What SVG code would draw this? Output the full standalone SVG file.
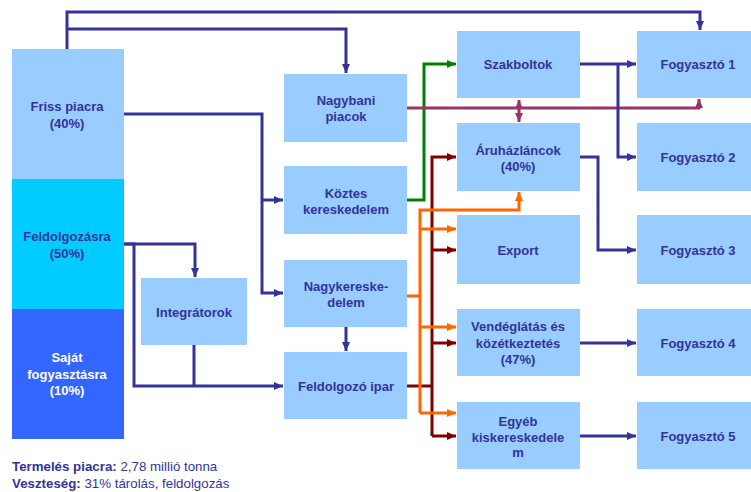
<svg xmlns="http://www.w3.org/2000/svg" width="751" height="492" viewBox="0 0 751 492">
<defs>
<style>
.box{fill:#99CCFF}
.t{font-family:"Liberation Sans",Arial,sans-serif;font-weight:bold;font-size:13px;fill:#333399;text-anchor:middle}
.w{fill:#FFFFFF}
.b{fill:none;stroke:#333399;stroke-width:3}
.g{fill:none;stroke:#008000;stroke-width:3}
.m{fill:none;stroke:#800000;stroke-width:3}
.o{fill:none;stroke:#FF6600;stroke-width:3}
.p{fill:none;stroke:#993366;stroke-width:3}
.foot{font-family:"Liberation Sans",Arial,sans-serif;font-size:13.3px;fill:#333399}
</style>
<marker id="ab" markerUnits="userSpaceOnUse" markerWidth="10" markerHeight="10" refX="9" refY="5" orient="auto"><path d="M0,1 L9,5 L0,9 Z" fill="#333399"/></marker>
<marker id="ag" markerUnits="userSpaceOnUse" markerWidth="10" markerHeight="10" refX="9" refY="5" orient="auto"><path d="M0,1 L9,5 L0,9 Z" fill="#008000"/></marker>
<marker id="am" markerUnits="userSpaceOnUse" markerWidth="10" markerHeight="10" refX="9" refY="5" orient="auto"><path d="M0,1 L9,5 L0,9 Z" fill="#800000"/></marker>
<marker id="ao" markerUnits="userSpaceOnUse" markerWidth="10" markerHeight="10" refX="9" refY="5" orient="auto"><path d="M0,1 L9,5 L0,9 Z" fill="#FF6600"/></marker>
<marker id="ap" markerUnits="userSpaceOnUse" markerWidth="10" markerHeight="10" refX="9" refY="5" orient="auto-start-reverse"><path d="M0,1 L9,5 L0,9 Z" fill="#993366"/></marker>
</defs>
<rect width="751" height="492" fill="#FFFFFF"/>

<g id="connectors">
<path class="b" d="M67,49 V12 H700 V30" marker-end="url(#ab)"/>
<path class="b" d="M67,29 H346 V73" marker-end="url(#ab)"/>
<path class="b" d="M124,114 H262 V293 H283" marker-end="url(#ab)"/>
<path class="b" d="M262,200 H283" marker-end="url(#ab)"/>
<path class="b" d="M124,244 H195 V277" marker-end="url(#ab)"/>
<path class="b" d="M124,244 H134 V386 H283" marker-end="url(#ab)"/>
<path class="b" d="M194,345 V386"/>
<path class="b" d="M346,327 V351" marker-end="url(#ab)"/>
<path class="g" d="M407,200 H424 V64 H456" marker-end="url(#ag)"/>
<path class="p" d="M407,108 H699 V99" marker-end="url(#ap)"/>
<path class="p" d="M519,100 V122" marker-start="url(#ap)" marker-end="url(#ap)"/>
<path class="m" d="M407,386 H432"/>
<path class="m" d="M432,436 V157 H456" marker-end="url(#am)"/>
<path class="m" d="M432,250 H456" marker-end="url(#am)"/>
<path class="m" d="M432,343 H456" marker-end="url(#am)"/>
<path class="m" d="M432,436 H456" marker-end="url(#am)"/>
<path class="o" d="M407,296 H420"/>
<path class="o" d="M420,413 V210 H519 V192" marker-end="url(#ao)"/>
<path class="o" d="M420,229 H456" marker-end="url(#ao)"/>
<path class="o" d="M420,327 H456" marker-end="url(#ao)"/>
<path class="o" d="M420,413 H456" marker-end="url(#ao)"/>
<path class="b" d="M580,64 H636" marker-end="url(#ab)"/>
<path class="b" d="M618,64 V157 H636" marker-end="url(#ab)"/>
<path class="b" d="M580,157 H598 V250 H636" marker-end="url(#ab)"/>
<path class="b" d="M580,343 H636" marker-end="url(#ab)"/>
<path class="b" d="M580,436 H636" marker-end="url(#ab)"/>
</g>

<g id="friss"><rect x="12" y="49" width="112" height="130" fill="#99CCFF"/><text class="t" x="67" y="111">Friss piacra</text><text class="t" x="67" y="128">(40%)</text></g>
<g id="feldolgozasra"><rect x="12" y="179" width="112" height="130" fill="#00CCFF"/><text class="t" x="67" y="241">Feldolgozásra</text><text class="t" x="67" y="258">(50%)</text></g>
<g id="sajat"><rect x="12" y="309" width="112" height="130" fill="#3366FF"/><text class="t w" x="67" y="362">Saját</text><text class="t w" x="67" y="379">fogyasztásra</text><text class="t w" x="67" y="395">(10%)</text></g>

<g id="integratorok"><rect class="box" x="141" y="278" width="106" height="67"/><text class="t" x="194" y="317">Integrátorok</text></g>
<g id="nagybani"><rect class="box" x="284" y="74" width="123" height="68"/><text class="t" x="346" y="105">Nagybani</text><text class="t" x="346" y="121">piacok</text></g>
<g id="koztes"><rect class="box" x="284" y="166" width="123" height="68"/><text class="t" x="346" y="198">Köztes</text><text class="t" x="346" y="214">kereskedelem</text></g>
<g id="nagyker"><rect class="box" x="284" y="260" width="123" height="67"/><text class="t" x="346" y="291">Nagykereske-</text><text class="t" x="346" y="307">delem</text></g>
<g id="feldolgozo"><rect class="box" x="284" y="352" width="123" height="67"/><text class="t" x="346" y="391">Feldolgozó ipar</text></g>

<g id="szakboltok"><rect class="box" x="457" y="31" width="123" height="67"/><text class="t" x="518" y="69">Szakboltok</text></g>
<g id="aruhaz"><rect class="box" x="457" y="123" width="123" height="68"/><text class="t" x="518" y="155">Áruházláncok</text><text class="t" x="518" y="171">(40%)</text></g>
<g id="export"><rect class="box" x="457" y="215" width="123" height="69"/><text class="t" x="518" y="255">Export</text></g>
<g id="vendeglatas"><rect class="box" x="457" y="309" width="123" height="67"/><text class="t" x="518" y="331">Vendéglátás és</text><text class="t" x="518" y="348">közétkeztetés</text><text class="t" x="518" y="364">(47%)</text></g>
<g id="egyeb"><rect class="box" x="457" y="402" width="123" height="67"/><text class="t" x="518" y="426">Egyéb</text><text class="t" x="518" y="442">kiskereskedele</text><text class="t" x="518" y="457">m</text></g>

<g id="fogy1"><rect class="box" x="637" y="31" width="114" height="67"/><text class="t" x="698" y="69">Fogyasztó 1</text></g>
<g id="fogy2"><rect class="box" x="637" y="123" width="114" height="68"/><text class="t" x="698" y="162">Fogyasztó 2</text></g>
<g id="fogy3"><rect class="box" x="637" y="215" width="114" height="69"/><text class="t" x="698" y="255">Fogyasztó 3</text></g>
<g id="fogy4"><rect class="box" x="637" y="309" width="114" height="67"/><text class="t" x="698" y="348">Fogyasztó 4</text></g>
<g id="fogy5"><rect class="box" x="637" y="402" width="114" height="67"/><text class="t" x="698" y="441">Fogyasztó 5</text></g>

<text class="foot" x="12" y="471"><tspan font-weight="bold">Termelés piacra:</tspan> 2,78 millió tonna</text>
<text class="foot" x="12" y="488"><tspan font-weight="bold">Veszteség:</tspan> 31% tárolás, feldolgozás</text>
</svg>
